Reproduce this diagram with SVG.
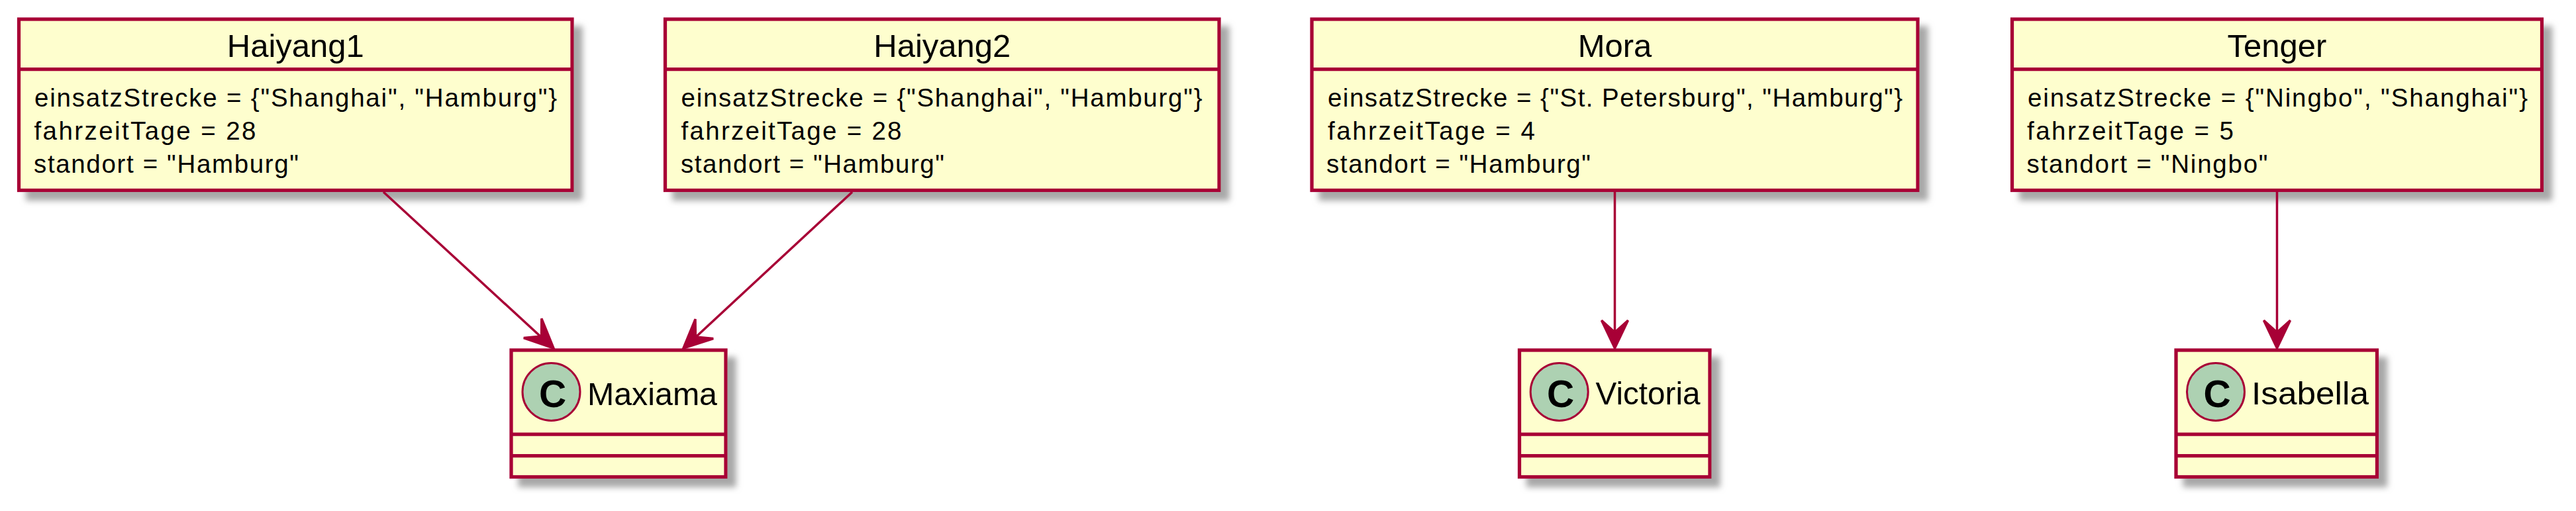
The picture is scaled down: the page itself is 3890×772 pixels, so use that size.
<svg xmlns="http://www.w3.org/2000/svg" width="3890" height="772" viewBox="0 0 3890 772">
<defs>
<filter id="sh" x="-10%" y="-10%" width="130%" height="135%">
<feGaussianBlur in="SourceAlpha" stdDeviation="5"/>
<feOffset dx="13" dy="13" result="b"/>
<feFlood flood-color="#A8A8A8"/>
<feComposite in2="b" operator="in"/>
<feMerge><feMergeNode/><feMergeNode in="SourceGraphic"/></feMerge>
</filter>
<style>
.box{fill:#FEFECE;stroke:#A80036;stroke-width:5.25;filter:url(#sh);}
.sep{stroke:#A80036;stroke-width:5.25;}
text{font-family:"Liberation Sans",Arial,sans-serif;fill:#000;}
.title{font-size:49px;text-anchor:middle;}
.attr{font-size:38.5px;}
.circ{fill:#ADD1B2;stroke:#A80036;stroke-width:3;}
.cg{font-size:57px;font-weight:bold;text-anchor:middle;}
.name{font-size:49px;}
.edge{stroke:#A80036;stroke-width:3.5;fill:none;}
.head{fill:#A80036;stroke:#A80036;stroke-width:3.5;stroke-linejoin:miter;}
</style>
</defs>
<rect width="3890" height="772" fill="#FFFFFF"/>

<g id="Haiyang1">
<rect class="box" x="28.5" y="29" width="835.5" height="258.5"/>
<line class="sep" x1="28.5" y1="104.5" x2="864" y2="104.5"/>
<text class="title" x="446.3" y="86">Haiyang1</text>
<text class="attr" x="52" y="161" textLength="789" lengthAdjust="spacing">einsatzStrecke = {"Shanghai", "Hamburg"}</text>
<text class="attr" x="51.5" y="210.5" textLength="335" lengthAdjust="spacing">fahrzeitTage = 28</text>
<text class="attr" x="51" y="260.5" textLength="400" lengthAdjust="spacing">standort = "Hamburg"</text>
</g>

<g id="Haiyang2">
<rect class="box" x="1004.5" y="29" width="836.5" height="258.5"/>
<line class="sep" x1="1004.5" y1="104.5" x2="1841" y2="104.5"/>
<text class="title" x="1422.8" y="86">Haiyang2</text>
<text class="attr" x="1028.5" y="161" textLength="787" lengthAdjust="spacing">einsatzStrecke = {"Shanghai", "Hamburg"}</text>
<text class="attr" x="1028.5" y="210.5" textLength="333" lengthAdjust="spacing">fahrzeitTage = 28</text>
<text class="attr" x="1028" y="260.5" textLength="398" lengthAdjust="spacing">standort = "Hamburg"</text>
</g>

<g id="Mora">
<rect class="box" x="1981" y="29" width="915" height="258.5"/>
<line class="sep" x1="1981" y1="104.5" x2="2896" y2="104.5"/>
<text class="title" x="2438.5" y="86">Mora</text>
<text class="attr" x="2005" y="161" textLength="868" lengthAdjust="spacing">einsatzStrecke = {"St. Petersburg", "Hamburg"}</text>
<text class="attr" x="2005" y="210.5" textLength="313" lengthAdjust="spacing">fahrzeitTage = 4</text>
<text class="attr" x="2003" y="260.5" textLength="399" lengthAdjust="spacing">standort = "Hamburg"</text>
</g>

<g id="Tenger">
<rect class="box" x="3038.5" y="29" width="800" height="258.5"/>
<line class="sep" x1="3038.5" y1="104.5" x2="3838.5" y2="104.5"/>
<text class="title" x="3438.5" y="86">Tenger</text>
<text class="attr" x="3062" y="161" textLength="755" lengthAdjust="spacing">einsatzStrecke = {"Ningbo", "Shanghai"}</text>
<text class="attr" x="3061" y="210.5" textLength="312" lengthAdjust="spacing">fahrzeitTage = 5</text>
<text class="attr" x="3060.5" y="260.5" textLength="364" lengthAdjust="spacing">standort = "Ningbo"</text>
</g>

<g id="Maxiama">
<rect class="box" x="772" y="529" width="324" height="191.5"/>
<line class="sep" x1="772" y1="656" x2="1096" y2="656"/>
<line class="sep" x1="772" y1="688.5" x2="1096" y2="688.5"/>
<circle class="circ" cx="832.5" cy="592" r="43.5"/>
<text class="cg" x="834.5" y="615">C</text>
<text class="name" x="887" y="611.5" textLength="196" lengthAdjust="spacingAndGlyphs">Maxiama</text>
</g>

<g id="Victoria">
<rect class="box" x="2294.5" y="529" width="287.5" height="191.5"/>
<line class="sep" x1="2294.5" y1="656" x2="2582" y2="656"/>
<line class="sep" x1="2294.5" y1="688.5" x2="2582" y2="688.5"/>
<circle class="circ" cx="2354.7" cy="592" r="43.5"/>
<text class="cg" x="2356.7" y="615">C</text>
<text class="name" x="2409.5" y="611" textLength="158" lengthAdjust="spacingAndGlyphs">Victoria</text>
</g>

<g id="Isabella">
<rect class="box" x="3286" y="529" width="303.5" height="191.5"/>
<line class="sep" x1="3286" y1="656" x2="3589.5" y2="656"/>
<line class="sep" x1="3286" y1="688.5" x2="3589.5" y2="688.5"/>
<circle class="circ" cx="3346" cy="592" r="43.5"/>
<text class="cg" x="3348" y="615">C</text>
<text class="name" x="3400" y="611" textLength="177" lengthAdjust="spacingAndGlyphs">Isabella</text>
</g>

<g id="connectors">
<line class="edge" x1="579" y1="290" x2="830" y2="521"/>
<polygon class="head" points="836,526 790.8,510.6 817.6,508.1 817.8,481.2"/>
<line class="edge" x1="1287" y1="290" x2="1038" y2="521"/>
<polygon class="head" points="1032,526 1077.2,511.5 1050.4,509 1050,482.1"/>
<line class="edge" x1="2438.5" y1="290" x2="2438.5" y2="520"/>
<polygon class="head" points="2438.5,526 2418.5,484 2438.5,502 2458.5,484"/>
<line class="edge" x1="3438.5" y1="290" x2="3438.5" y2="520"/>
<polygon class="head" points="3438.5,526 3418.5,484 3438.5,502 3458.5,484"/>
</g>
</svg>
